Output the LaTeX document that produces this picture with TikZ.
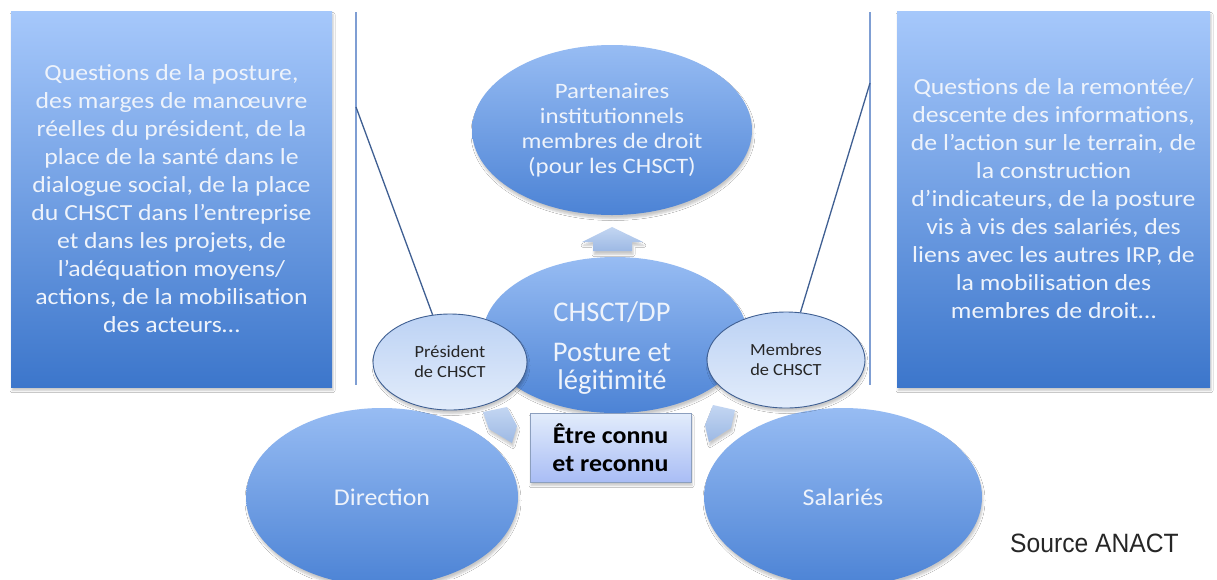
\documentclass[tikz,border=0pt]{standalone}
\usepackage{fontspec}
\setmainfont{Carlito}
\newfontfamily\fboxfont{Carlito}[FakeStretch=1.12]
\newfontfamily\fpart{Carlito}[FakeStretch=1.13]
\newfontfamily\fmid{Carlito}
\newfontfamily\fsmall{Carlito}[FakeStretch=1.08]
\newfontfamily\fsrc{Liberation Sans}[FakeStretch=0.93]
\usetikzlibrary{shapes.geometric,shadows.blur}
\definecolor{boxtop}{HTML}{A6C8FB}
\definecolor{boxbot}{HTML}{3C76CB}
\definecolor{elltop}{HTML}{97BCF3}
\definecolor{ellbot}{HTML}{4C83D5}
\definecolor{lighttop}{HTML}{BCD2F4}
\definecolor{lightbot}{HTML}{E2ECFB}
\definecolor{edgeblue}{HTML}{3F5F92}
\definecolor{vlinecol}{HTML}{7F9ED3}
\definecolor{paletext}{HTML}{EEF3FB}
\definecolor{arrowtop}{HTML}{C3D6F2}
\definecolor{arrowbot}{HTML}{9DB9E4}
\tikzset{
  softshadow/.style={blur shadow={shadow blur steps=5, shadow xshift=1pt, shadow yshift=-3.5pt, shadow opacity=22, shadow blur radius=2pt}},
  bigbox/.style={rectangle, inner sep=0pt, top color=boxtop, bottom color=boxbot, softshadow, text=paletext, align=center},
  bigell/.style={ellipse, inner sep=0pt, top color=elltop, bottom color=ellbot, softshadow, text=paletext, align=center},
  smallell/.style={ellipse, inner sep=0pt, top color=lighttop, bottom color=lightbot, draw=edgeblue, line width=0.9pt, softshadow, text=black!85, align=center},
  labelbox/.style={rectangle, inner sep=0pt, top color=lightbot, bottom color=lighttop!90!blue, draw=edgeblue!60, line width=0.8pt, softshadow, text=black, align=center},
  blockarrow/.style={top color=arrowtop, bottom color=arrowbot, softshadow},
  vline/.style={draw=vlinecol, line width=2pt},
  dline/.style={draw=edgeblue, line width=1.3pt},
  plain/.style={inner sep=0pt, align=center}
}
\begin{document}
\begin{tikzpicture}[x=1pt,y=-1pt]
\useasboundingbox (0,0) rectangle (1217,579);
\fill[white] (0,0) rectangle (1217,579);

% bottom circles
\node[bigell, minimum width=272pt, minimum height=178pt, font=\fsmall\fontsize{24}{28}\selectfont] (dir) at (382,497) {Direction};
\node[bigell, minimum width=278pt, minimum height=178pt, font=\fsmall\fontsize{24}{28}\selectfont] (sal) at (843,497) {Salariés};

% small block arrows
\path[blockarrow] (483,412) -- (507,407) -- (517,426) -- (512,443) -- (489,429) -- cycle;
\path[blockarrow] (735,410) -- (713,405) -- (705,425) -- (709,442) -- (731,428) -- cycle;

% central ellipse
\node[bigell, minimum width=264pt, minimum height=156pt] (chsct) at (615,335) {};
\node[plain, text=paletext, font=\fmid\fontsize{28.5}{28}\selectfont] (chsctTxt) at (612,348) {CHSCT/DP\\[12pt]Posture et\\légitimité};

% side ellipses
\node[smallell, minimum width=154pt, minimum height=96pt, font=\fsmall\fontsize{17}{20}\selectfont] (pres) at (450,362) {Président\\de CHSCT};
\node[smallell, minimum width=158pt, minimum height=96pt, font=\fsmall\fontsize{17}{20}\selectfont] (memb) at (786,360) {Membres\\de CHSCT};

% label box
\node[labelbox, minimum width=161pt, minimum height=69pt, font=\fsmall\bfseries\fontsize{24}{28}\selectfont] (etre) at (610.5,447.5) {Être connu\\et reconnu};

% top ellipse
\node[bigell, minimum width=280pt, minimum height=170pt, font=\fpart\fontsize{22}{25}\selectfont] (part) at (612,130) {Partenaires\\institutionnels\\membres de droit\\(pour les CHSCT)};

% up arrow
\path[blockarrow] (612,227) -- (643,242) -- (632,242) -- (632,251) -- (593,251) -- (593,242) -- (582,242) -- cycle;

% side boxes
\node[bigbox, minimum width=321pt, minimum height=376pt, font=\fboxfont\fontsize{23}{28}\selectfont] (lbox) at (171.5,199) {Questions de la posture,\\des marges de manœuvre\\réelles du président, de la\\place de la santé dans le\\dialogue social, de la place\\du CHSCT dans l’entreprise\\et dans les projets, de\\l’adéquation moyens/\\actions, de la mobilisation\\des acteurs…};
\node[bigbox, minimum width=313pt, minimum height=376pt, font=\fboxfont\fontsize{23}{28}\selectfont] (rbox) at (1053.5,199) {Questions de la remontée/\\descente des informations,\\de l’action sur le terrain, de\\la construction\\d’indicateurs, de la posture\\vis à vis des salariés, des\\liens avec les autres IRP, de\\la mobilisation des\\membres de droit…};

% lines
\coordinate (lv1) at (356,12);
\coordinate (lv2) at (356,385);
\coordinate (rv1) at (870,12);
\coordinate (rv2) at (870,385);
\coordinate (ld) at (356,107);
\coordinate (rd) at (870,83);
\draw[vline] (lv1) -- (lv2);
\draw[vline] (rv1) -- (rv2);
\draw[dline] (ld) -- (pres);
\draw[dline] (rd) -- (memb);

% source
\node[inner sep=0pt, anchor=base west, text=black!85, font=\fsrc\fontsize{26.5}{30}\selectfont] (src) at (1010,552) {Source ANACT};
\end{tikzpicture}
\end{document}
